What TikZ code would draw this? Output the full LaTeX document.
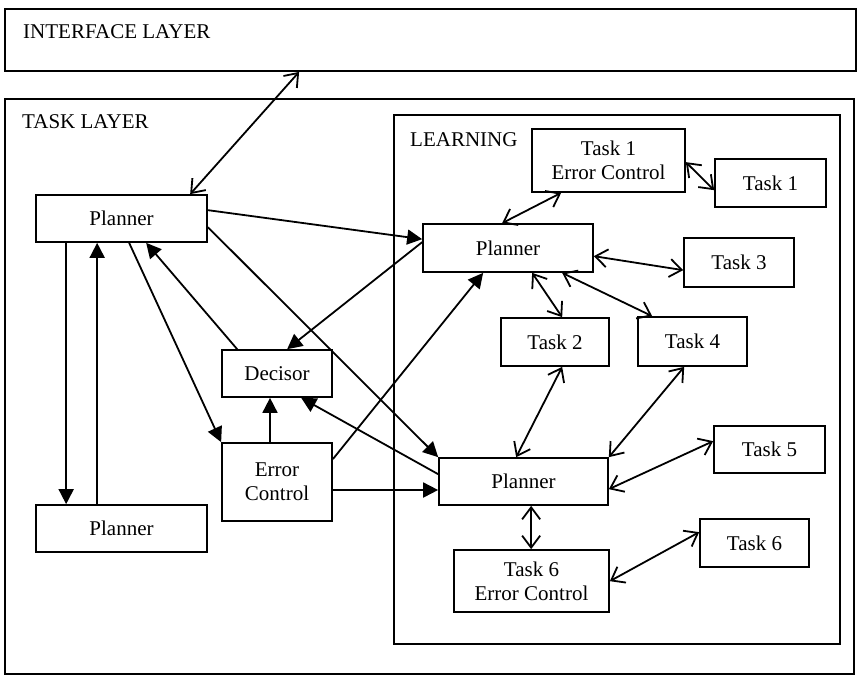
\documentclass[tikz,border=0pt]{standalone}
\usepackage{fontspec}
\setmainfont{Liberation Serif}
\usetikzlibrary{arrows.meta}
\tikzset{
  box/.style={draw, line width=1.7pt, inner sep=0pt, align=center,
    font=\fontsize{21}{24}\selectfont},
  layer/.style={draw, line width=1.8pt, inner sep=0pt},
  lbl/.style={anchor=base west, inner sep=0pt, font=\fontsize{21}{24}\selectfont},
  fwd/.style={line width=1.8pt, -{Triangle[length=15pt,width=15pt]}},
  both/.style={line width=1.8pt, {Straight Barb[length=12pt,width=18pt,line width=1.8pt]}-{Straight Barb[length=12pt,width=18pt,line width=1.8pt]}}
}
\begin{document}
\begin{tikzpicture}[x=1pt, y=-1pt]
\useasboundingbox (0,0) rectangle (858,675);

% layers
\node[layer, minimum width=851pt, minimum height=62pt] (iface) at (430.5,40) {};
\node[lbl] (ifacel) at (23,38) {INTERFACE LAYER};
\node[layer, minimum width=849pt, minimum height=575pt] (task) at (429.5,386.5) {};
\node[lbl] (taskl) at (22,128) {TASK LAYER};
\node[layer, line width=1.4pt, minimum width=446pt, minimum height=529pt] (learn) at (617,379.5) {};
\node[lbl] (learnl) at (410,146) {LEARNING};

% task layer boxes
\node[box, minimum width=171pt, minimum height=47pt] (p1) at (121.5,218.5) {Planner};
\node[box, minimum width=171pt, minimum height=47pt] (p2) at (121.5,528.5) {Planner};
\node[box, minimum width=110pt, minimum height=47pt] (dec) at (277,373.5) {Decisor};
\node[box, minimum width=110pt, minimum height=78pt] (ec) at (277,482) {Error\\Control};

% learning boxes
\node[box, minimum width=170pt, minimum height=48pt] (lp1) at (508,248) {Planner};
\node[box, minimum width=169pt, minimum height=47pt] (lp2) at (523.5,481.5) {Planner};
\node[box, minimum width=153pt, minimum height=63pt] (t1ec) at (608.5,160.5) {Task 1\\Error Control};
\node[box, minimum width=111pt, minimum height=48pt] (t1) at (770.5,183) {Task 1};
\node[box, minimum width=110pt, minimum height=49pt] (t3) at (739,262.5) {Task 3};
\node[box, minimum width=108pt, minimum height=48pt] (t2) at (555,342) {Task 2};
\node[box, minimum width=109pt, minimum height=49pt] (t4) at (692.5,341.5) {Task 4};
\node[box, minimum width=111pt, minimum height=47pt] (t5) at (769.5,449.5) {Task 5};
\node[box, minimum width=155pt, minimum height=62pt] (t6ec) at (531.5,581) {Task 6\\Error Control};
\node[box, minimum width=109pt, minimum height=48pt] (t6) at (754.5,543) {Task 6};

% interface link
\draw[both] ([xshift=295pt]iface.south west) -- ([xshift=155pt]p1.north west);

% task layer flows
\draw[fwd] ([yshift=-16pt]p1.north east) -- ([yshift=-16pt]lp1.north west);
\draw[fwd] ([yshift=-33pt]p1.north east) -- (lp2.north west);
\draw[fwd] ([xshift=94pt]p1.south west) -- (ec.north west);
\draw[fwd] ([xshift=16pt]dec.north west) -- ([xshift=111pt]p1.south west);
\draw[fwd] ([yshift=-19pt]lp1.north west) -- ([xshift=66pt]dec.north west);
\draw[fwd] ([xshift=-7pt]ec.north) -- ([xshift=-7pt]dec.south);
\draw[fwd] ([yshift=-17pt]ec.north east) -- ([xshift=61pt]lp1.south west);
\draw[fwd] ([yshift=-8pt]ec.east) -- ([yshift=-8pt]ec.east -| lp2.west);
\draw[fwd] ([yshift=-17pt]lp2.north west) -- ([xshift=80pt]dec.south west);
\draw[fwd] ([xshift=31pt]p1.south west) -- ([xshift=31pt]p2.north west);
\draw[fwd] ([xshift=62pt]p2.north west) -- ([xshift=62pt]p1.south west);

% learning links
\draw[both] ([xshift=80pt]lp1.north west) -- ([xshift=30pt]t1ec.south west);
\draw[both] ([yshift=-34pt]t1ec.north east) -- ([yshift=-32pt]t1.north west);
\draw[both] ([yshift=-33pt]lp1.north east) -- ([yshift=-33pt]t3.north west);
\draw[both] ([xshift=110pt]lp1.south west) -- ([xshift=62pt]t2.north west);
\draw[both] ([xshift=140pt]lp1.south west) -- ([xshift=15pt]t4.north west);
\draw[both] ([xshift=62pt]t2.south west) -- ([xshift=78pt]lp2.north west);
\draw[both] ([xshift=47pt]t4.south west) -- (lp2.north east);
\draw[both] ([yshift=-16pt]t5.north west) -- ([yshift=-32pt]lp2.north east);
\draw[both] ([xshift=93pt]lp2.south west) -- ([xshift=78pt]t6ec.north west);
\draw[both] ([yshift=-32pt]t6ec.north east) -- ([yshift=-14pt]t6.north west);
\end{tikzpicture}
\end{document}
